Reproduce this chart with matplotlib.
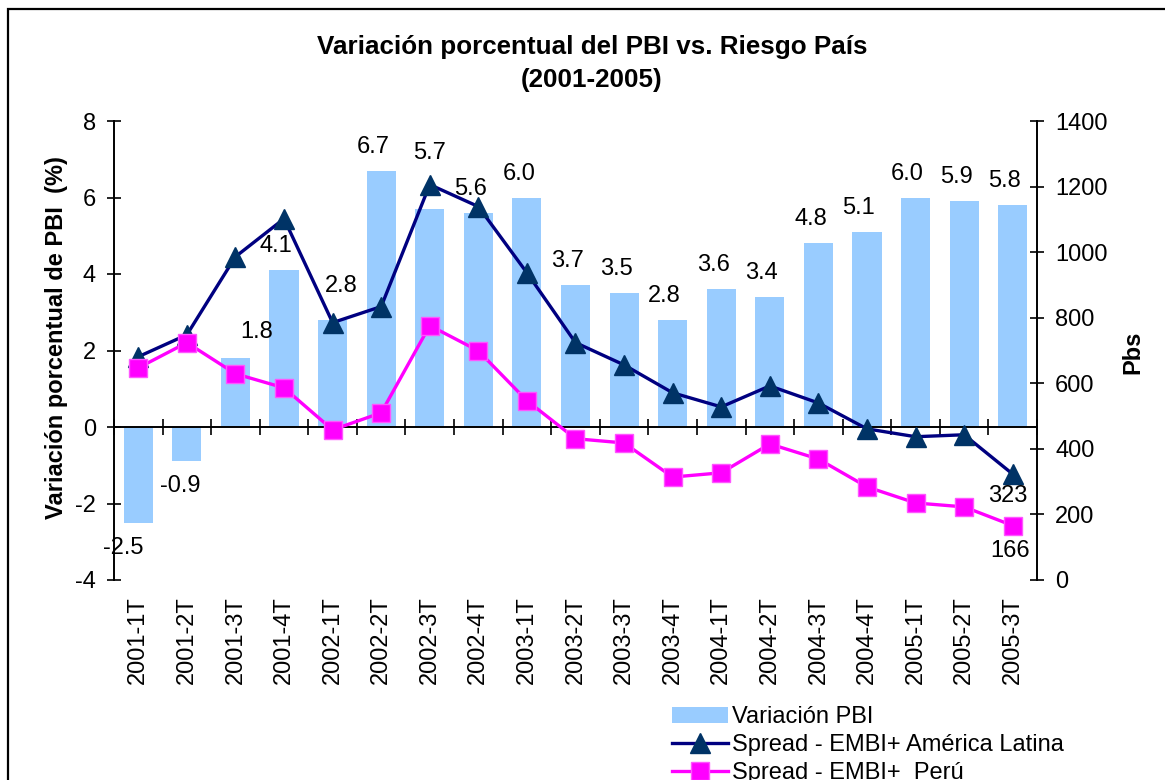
import numpy as np
import matplotlib.pyplot as plt
from matplotlib.patches import Rectangle
from matplotlib.transforms import blended_transform_factory, offset_copy

plt.rcParams['font.family'] = ['Liberation Sans', 'DejaVu Sans']
plt.rcParams['axes.unicode_minus'] = False

quarters = ["2001-1T", "2001-2T", "2001-3T", "2001-4T",
            "2002-1T", "2002-2T", "2002-3T", "2002-4T",
            "2003-1T", "2003-2T", "2003-3T", "2003-4T",
            "2004-1T", "2004-2T", "2004-3T", "2004-4T",
            "2005-1T", "2005-2T", "2005-3T"]
pbi = [-2.5, -0.9, 1.8, 4.1, 2.8, 6.7, 5.7, 5.6, 6.0, 3.7,
       3.5, 2.8, 3.6, 3.4, 4.8, 5.1, 6.0, 5.9, 5.8]
embi_latam = [681, 748, 986, 1102, 785, 834, 1206, 1139, 937, 724,
              656, 571, 528, 592, 540, 461, 437, 443, 323]
embi_peru = [647, 724, 629, 586, 458, 510, 776, 699, 547, 431,
             418, 314, 327, 415, 369, 284, 235, 223, 166]

FS = 17
x = np.arange(len(quarters))

fig = plt.figure(figsize=(11.65, 7.8), dpi=100)
ax = fig.add_axes([114 / 1165, 1 - 580 / 780, 923 / 1165, 459 / 780])
ax2 = ax.twinx()

ax.bar(x, pbi, width=0.6, color='#99CCFF', label='Variación PBI', zorder=2)
ax2.plot(x, embi_latam, color='#000080', lw=2.4, marker='^', ms=15,
         mfc='#003366', mec='#003366', label='Spread - EMBI+ América Latina')
ax2.plot(x, embi_peru, color='#FF00FF', lw=2.4, marker='s', ms=13,
         mfc='#FF00FF', mec='#FF55FF', label='Spread - EMBI+  Perú')

ax.set_xlim(-0.5, len(quarters) - 0.5)
ax.set_ylim(-4, 8)
ax.set_yticks(range(-4, 9, 2))
ax2.set_ylim(0, 1400)
ax2.set_yticks(range(0, 1401, 200))

# category axis sits on the zero line, labels at the bottom
ax.spines['bottom'].set_position(('data', 0))
ax.set_xticks(np.arange(-0.5, len(quarters), 1.0))
ax.set_xticklabels([])
ax.tick_params(axis='x', direction='inout', length=12, width=1.2)
ax.tick_params(axis='y', direction='inout', length=10, width=1.2, labelsize=FS, pad=8)
ax2.tick_params(axis='y', direction='inout', length=10, width=1.2, labelsize=FS, pad=8)
for s in ['top', 'right']:
    ax.spines[s].set_visible(False)
for s in ['top', 'left', 'bottom']:
    ax2.spines[s].set_visible(False)
for s in ['left', 'bottom']:
    ax.spines[s].set_linewidth(1.4)
ax2.spines['right'].set_linewidth(1.4)

tr = blended_transform_factory(ax.transData, ax.transAxes)
for i, q in enumerate(quarters):
    ax.text(i, -0.035, q, transform=tr, rotation=90, ha='center', va='top', fontsize=FS)

# data labels (pixel offsets, Excel labels were nudged by hand)
nudge = {2: (21, 26), 4: (9, 34), 6: (0, 56), 0: (-15, -25), 1: (-7, -25)}
for i, v in enumerate(pbi):
    dx, dy = nudge.get(i, (-8, 24))
    t = offset_copy(ax.transData, fig=fig, x=dx * 0.72, y=dy * 0.72, units='points')
    ax.text(i, v, f"{v:.1f}", transform=t, ha='center', va='center', fontsize=FS, zorder=5)

n = len(quarters) - 1
t = offset_copy(ax2.transData, fig=fig, x=-5 * 0.72, y=-22 * 0.72, units='points')
ax2.text(n, embi_latam[n], str(embi_latam[n]), transform=t, ha='center', va='center', fontsize=FS)
t = offset_copy(ax2.transData, fig=fig, x=-3 * 0.72, y=-25 * 0.72, units='points')
ax2.text(n, embi_peru[n], str(embi_peru[n]), transform=t, ha='center', va='center', fontsize=FS)

fig.text(592 / 1165, 1 - 47 / 780, "Variación porcentual del PBI vs. Riesgo País",
         ha='center', va='center', fontsize=18.7, fontweight='bold')
fig.text(592 / 1165, 1 - 80 / 780, "(2001-2005)",
         ha='center', va='center', fontsize=18.7, fontweight='bold')
fig.text(57 / 1165, 1 - 338 / 780, "Variación porcentual de PBI  (%)", rotation=90,
         ha='center', va='center', fontsize=FS, fontweight='bold')
fig.text(1133 / 1165, 1 - 352 / 780, "Pbs", rotation=90,
         ha='center', va='center', fontsize=FS, fontweight='bold')

h1, l1 = ax.get_legend_handles_labels()
h2, l2 = ax2.get_legend_handles_labels()
fig.legend(h1 + h2, l1 + l2, loc='upper left', bbox_to_anchor=(651 / 1165, 1 - 685 / 780),
           frameon=False, fontsize=FS, handlelength=2.35, handletextpad=0.2,
           labelspacing=0.25, borderpad=0.4)

fig.add_artist(Rectangle((8 / 1165, -0.1), 1.2, 1.1 - 9 / 780, transform=fig.transFigure,
                         fill=False, lw=1.6, ec='black'))

fig.savefig('out.png', dpi=100)
